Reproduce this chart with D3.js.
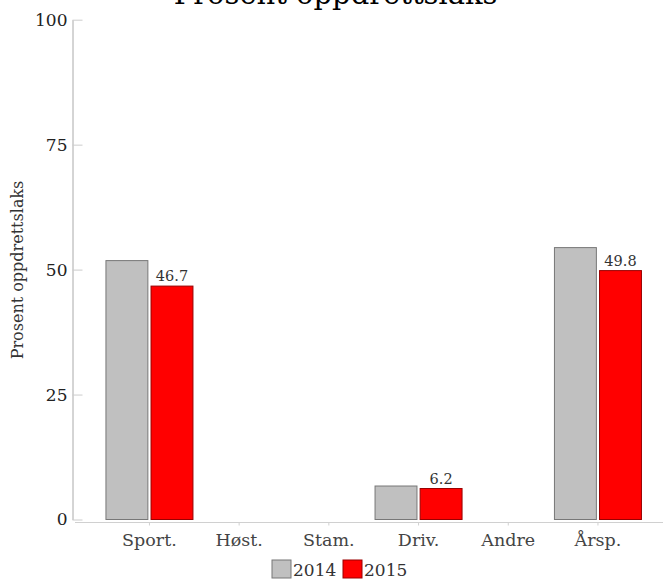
<!DOCTYPE html>
<html>
<head>
<meta charset="utf-8">
<script src="https://cdn.jsdelivr.net/npm/d3@7"></script>
<style>
  html, body { margin: 0; padding: 0; background: #fff; }
  svg { display: block; font-family: "DejaVu Serif", "Liberation Serif", serif; }
</style>
</head>
<body>
<svg id="chart" width="663" height="581"></svg>
<script>
const categories = ["Sport.", "Høst.", "Stam.", "Driv.", "Andre", "Årsp."];
const seriesNames = ["2014", "2015"];
const values2014 = [51.8, 0, 0, 6.7, 0, 54.4];
const values2015 = [46.7, 0, 0, 6.2, 0, 49.8];
const yTicks = [0, 25, 50, 75, 100];
const colors = ["#c0c0c0", "#ff0000"];
const strokes = ["#777777", "#990000"];
const titleText = "Prosent oppdrettslaks";
const yLabelText = "Prosent oppdrettslaks";

const svg = d3.select("#chart");
const W = 663, H = 581;

const y = d3.scaleLinear().domain([0, 100]).range([519.5, 19.7]);
const x0 = d3.scaleBand().domain(categories).range([104.6, 642.8])
  .paddingInner(0.03).paddingOuter(0.015);
const x1 = d3.scaleBand().domain(seriesNames).range([0, x0.bandwidth()])
  .paddingInner(0.07);

const data = categories.map((c, i) => ({
  cat: c,
  vals: [
    { s: "2014", v: values2014[i], idx: 0 },
    { s: "2015", v: values2015[i], idx: 1 }
  ]
}));

// Title (partly above the top edge, as in the reference)
svg.append("text")
  .attr("x", 335.6).attr("y", 4)
  .attr("text-anchor", "middle")
  .attr("font-size", 29)
  .attr("fill", "#000")
  .text(titleText);

// Y axis
const yAxis = d3.axisLeft(y).tickValues(yTicks).tickSizeInner(-10).tickSizeOuter(0).tickPadding(5);
const gy = svg.append("g").attr("transform", "translate(72.5,0)").call(yAxis);
gy.select(".domain").attr("stroke", "#aaaaaa");
gy.selectAll(".tick line").attr("stroke", "#cccccc");
gy.selectAll(".tick text").attr("font-size", 17).attr("fill", "#222")
  .attr("font-family", "DejaVu Serif, serif");

// X axis
const xAxis = d3.axisBottom(x0).tickSizeInner(3).tickSizeOuter(0).tickPadding(8);
const gx = svg.append("g").attr("transform", "translate(0,522.5)").call(xAxis);
gx.select(".domain").remove();
gx.append("line").attr("x1", 75).attr("x2", W).attr("y1", 0).attr("y2", 0)
  .attr("stroke", "#d0d0d0");
gx.selectAll(".tick line").attr("stroke", "#d0d0d0");
gx.selectAll(".tick text").attr("font-size", 17.5).attr("fill", "#444")
  .attr("font-family", "DejaVu Serif, serif");

// Y label
svg.append("text")
  .attr("transform", "translate(23,270) rotate(-90)")
  .attr("text-anchor", "middle")
  .attr("font-size", 16)
  .attr("fill", "#333")
  .text(yLabelText);

// Bars
const groups = svg.append("g").selectAll("g").data(data).join("g")
  .attr("transform", d => `translate(${x0(d.cat)},0)`);

groups.selectAll("rect").data(d => d.vals.filter(v => v.v > 0)).join("rect")
  .attr("x", d => x1(d.s))
  .attr("y", d => y(d.v))
  .attr("width", x1.bandwidth())
  .attr("height", d => y(0) - y(d.v))
  .attr("fill", d => colors[d.idx])
  .attr("stroke", d => strokes[d.idx])
  .attr("stroke-width", 1);

groups.selectAll("text.lbl").data(d => d.vals.filter(v => v.idx === 1 && v.v > 0)).join("text")
  .attr("class", "lbl")
  .attr("x", d => x1(d.s) + x1.bandwidth() / 2)
  .attr("y", d => y(d.v) - 5)
  .attr("text-anchor", "middle")
  .attr("font-size", 14.5)
  .attr("fill", "#333")
  .text(d => d.v.toFixed(1));

// Legend
const legendX = [272, 343];
const leg = svg.append("g").selectAll("g").data(seriesNames).join("g")
  .attr("transform", (d, i) => `translate(${legendX[i]},560)`);
leg.append("rect").attr("width", 19).attr("height", 18)
  .attr("fill", (d, i) => colors[i]).attr("stroke", (d, i) => strokes[i]);
leg.append("text").attr("x", 21).attr("y", 15.5)
  .attr("font-size", 17).attr("fill", "#333").text(d => d);
</script>
</body>
</html>
